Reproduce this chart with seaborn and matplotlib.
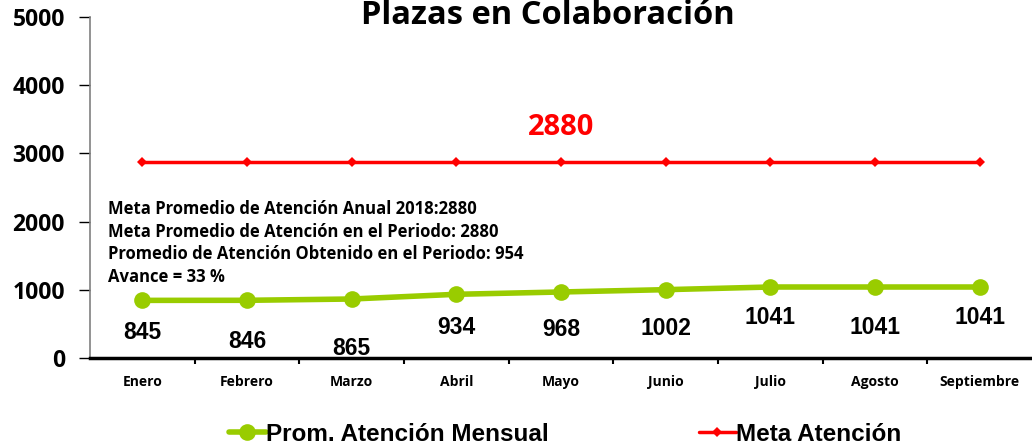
import matplotlib
matplotlib.use("Agg")
import matplotlib.pyplot as plt
import numpy as np
import pandas as pd
import seaborn as sns
from matplotlib.ticker import FixedLocator

meses = ["Enero", "Febrero", "Marzo", "Abril", "Mayo", "Junio",
         "Julio", "Agosto", "Septiembre"]
prom_mensual = [845, 846, 865, 934, 968, 1002, 1041, 1041, 1041]
meta_atencion = [2880] * 9
# label offsets (points) below each green point
label_dy = [-23, -30, -35.5, -24, -27, -28, -22, -29, -22]

resumen = ["Meta Promedio de Atención Anual 2018:2880",
           "Meta Promedio de Atención en el Periodo: 2880",
           "Promedio de Atención Obtenido en el Periodo: 954",
           "Avance = 33 %"]

VERDE = "#99CC00"
ROJO = "#FF0000"
CAL = ["Open Sans", "DejaVu Sans"]
ARIAL = ["Liberation Sans", "DejaVu Sans"]

sns.set_style("white")
plt.rcParams.update({"text.color": "black", "xtick.color": "black",
                     "ytick.color": "black", "axes.labelcolor": "black"})

df = pd.DataFrame({
    "mes": meses * 2,
    "idx": list(range(9)) * 2,
    "valor": prom_mensual + meta_atencion,
    "serie": ["Prom. Atención Mensual"] * 9 + ["Meta Atención"] * 9,
})

fig = plt.figure(figsize=(10.32, 4.48), dpi=100)
ax = fig.add_axes([0.0872, 0.2009, 0.9128, 0.7611])

sns.lineplot(data=df[df.serie == "Prom. Atención Mensual"], x="idx", y="valor",
             color=VERDE, lw=4, marker="o", markersize=12, markeredgewidth=0,
             ax=ax, label="Prom. Atención Mensual", legend=False)
sns.lineplot(data=df[df.serie == "Meta Atención"], x="idx", y="valor",
             color=ROJO, lw=2.5, marker="D", markersize=5, markeredgewidth=0,
             ax=ax, label="Meta Atención", legend=False)

ax.set_xlim(-0.5, 8.5)
ax.set_ylim(0, 5000)
ax.set_yticks(range(0, 5001, 1000))
ax.set_yticklabels([str(v) for v in range(0, 5001, 1000)],
                   fontfamily=CAL, fontweight="bold", fontsize=16.5)
ax.set_xticks(range(9))
ax.set_xticklabels(meses, fontfamily=CAL, fontweight="bold", fontsize=10)
ax.xaxis.set_minor_locator(FixedLocator(np.arange(0.5, 8.5, 1)))
ax.tick_params(axis="x", which="major", length=0, pad=12)
ax.tick_params(axis="x", which="minor", length=4, width=1.5, direction="out",
               color="black", bottom=True)
ax.tick_params(axis="y", length=8, width=1, direction="out", color="black",
               left=True, pad=10)
ax.set_xlabel("")
ax.set_ylabel("")

for s in ["top", "right"]:
    ax.spines[s].set_visible(False)
ax.spines["left"].set_color("#808080")
ax.spines["left"].set_linewidth(1.2)
ax.spines["bottom"].set_color("black")
ax.spines["bottom"].set_linewidth(2.5)

for i, v in enumerate(prom_mensual):
    ax.annotate(str(v), (i, v), xytext=(0, label_dy[i]), textcoords="offset points",
                ha="center", va="center", fontfamily=ARIAL, fontweight="bold",
                fontsize=16.5)

ax.text(4, 2880 + 500, "2880", color=ROJO, ha="center", va="center",
        fontfamily=CAL, fontweight="bold", fontsize=21)

for k, linea in enumerate(resumen):
    fig.text(108 / 1032, 1 - (209 + k * 22.7) / 448, linea, ha="left",
             va="center", fontfamily=CAL, fontweight="bold", fontsize=12)

fig.text(548 / 1032, 1 - 15 / 448, "Plazas en Colaboración", ha="center",
         va="center", fontfamily=CAL, fontweight="bold", fontsize=23.5)

handles, labels = ax.get_legend_handles_labels()
fig.legend(handles, labels, loc="center", bbox_to_anchor=(565 / 1032, 1 - 434 / 448),
           ncol=2, frameon=False, handlelength=1.5, handletextpad=0.0,
           columnspacing=6.2, prop={"family": "Liberation Sans", "weight": "bold",
                                    "size": 17.5})

fig.savefig("out.png", dpi=100)
